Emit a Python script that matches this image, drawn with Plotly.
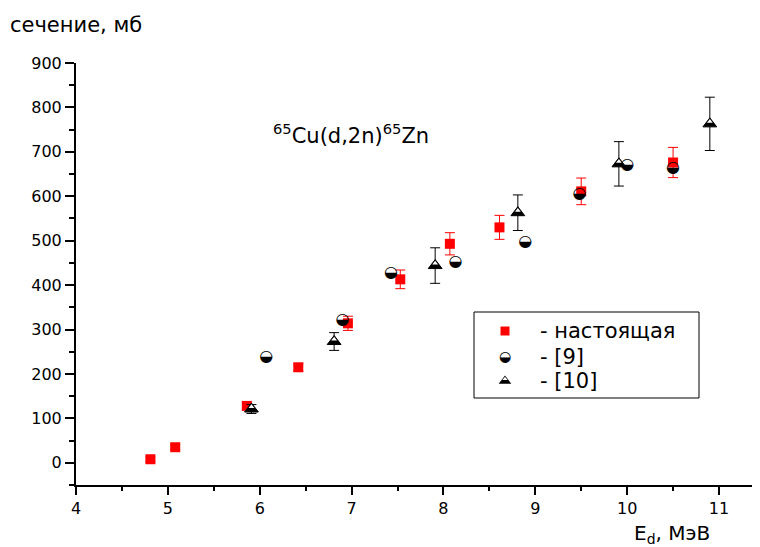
import plotly.graph_objects as go

# ---- data ----
x_now = [4.81, 5.08, 5.86, 6.42, 6.96, 7.53, 8.07, 8.61, 9.50, 10.50]
y_now = [8, 35, 128, 215, 314, 413, 493, 530, 611, 676]
e_now = [5, 5, 8, 8, 16, 21, 25, 27, 30, 34]

x_ref9 = [6.07, 6.90, 7.43, 8.13, 8.89, 9.48, 10.00, 10.50]
y_ref9 = [239, 322, 428, 451, 497, 605, 671, 663]

x_ref10 = [5.91, 6.81, 7.91, 8.81, 9.91, 10.90]
y_ref10 = [121, 273, 444, 563, 673, 763]
e_ref10 = [10, 20, 40, 40, 50, 60]

legend_labels = ["- настоящая", "- [9]", "- [10]"]
x_ticks = [4, 5, 6, 7, 8, 9, 10, 11]
y_ticks = [0, 100, 200, 300, 400, 500, 600, 700, 800, 900]

FONT = "DejaVu Sans"
OFF = 8                      # page body margin in the browser
W, H = 760 - OFF, 547 - OFF
L, R, T, B = 76 - OFF, 0, 63 - OFF, 62
PW, PH = W - L - R, H - T - B


def px(xs):
    """screen x pixel -> paper x"""
    return (xs - OFF - L) / PW


def py(ys):
    """screen y pixel -> paper y"""
    return (H - B - (ys - OFF)) / PH


HALF = "\u25D2"

fig = go.Figure()

# present work: red squares with red error bars
fig.add_trace(go.Scatter(
    x=x_now, y=y_now, mode="markers",
    marker=dict(symbol="square", size=10, color="#ff0000"),
    error_y=dict(type="data", array=e_now, visible=True, color="#ff0000",
                 thickness=1, width=5),
    showlegend=False))

# [10]: half-filled triangles with black error bars
fig.add_trace(go.Scatter(
    x=x_ref10, y=y_ref10, mode="markers",
    marker=dict(symbol="triangle-up", size=12, color="black",
                line=dict(color="black", width=1)),
    error_y=dict(type="data", array=e_ref10, visible=True, color="black",
                 thickness=1, width=5),
    showlegend=False))
fig.add_trace(go.Scatter(
    x=x_ref10, y=y_ref10, mode="markers",
    marker=dict(symbol="triangle-down", size=5, color="white",
                angle=180, standoff=2.3),
    showlegend=False, hoverinfo="skip"))

# [9]: half-filled circles
fig.add_trace(go.Scatter(
    x=x_ref9, y=y_ref9, mode="text", text=[HALF] * len(x_ref9),
    textposition="middle center",
    textfont=dict(family=FONT, size=16, color="black"),
    showlegend=False))

# ---- hand-made legend (on an overlay axis in 0..1 units) ----
leg_x = px(505)
leg_rows = [py(331), py(357), py(381)]
fig.add_trace(go.Scatter(
    x=[leg_x], y=[leg_rows[0]], xaxis="x2", yaxis="y2", mode="markers",
    marker=dict(symbol="square", size=9, color="#ff0000"),
    showlegend=False, hoverinfo="skip"))
fig.add_trace(go.Scatter(
    x=[leg_x], y=[leg_rows[1]], xaxis="x2", yaxis="y2", mode="text",
    text=[HALF], textposition="middle center",
    textfont=dict(family=FONT, size=14, color="black"),
    showlegend=False, hoverinfo="skip"))
fig.add_trace(go.Scatter(
    x=[leg_x], y=[leg_rows[2]], xaxis="x2", yaxis="y2", mode="markers",
    marker=dict(symbol="triangle-up", size=11, color="black"),
    showlegend=False, hoverinfo="skip"))
fig.add_trace(go.Scatter(
    x=[leg_x], y=[leg_rows[2]], xaxis="x2", yaxis="y2", mode="markers",
    marker=dict(symbol="triangle-down", size=4.5, color="white",
                angle=180, standoff=2.1),
    showlegend=False, hoverinfo="skip"))

annotations = []
for lab, yr in zip(legend_labels, leg_rows):
    annotations.append(dict(
        x=px(538), y=yr, xref="paper", yref="paper", text=lab,
        showarrow=False, xanchor="left", yanchor="middle",
        font=dict(family=FONT, size=21, color="black")))

# reaction title
annotations.append(dict(
    x=px(271), y=py(134), xref="paper", yref="paper",
    text="<sup>65</sup>Cu(d,2n)<sup>65</sup>Zn",
    showarrow=False, xanchor="left", yanchor="middle",
    font=dict(family=FONT, size=21, color="black")))

# axis titles
annotations.append(dict(
    x=px(8), y=py(25), xref="paper", yref="paper", text="сечение, мб",
    showarrow=False, xanchor="left", yanchor="middle",
    font=dict(family=FONT, size=21, color="black")))
annotations.append(dict(
    x=px(632), y=py(534), xref="paper", yref="paper",
    text="E<sub>d</sub>, МэВ",
    showarrow=False, xanchor="left", yanchor="middle",
    font=dict(family=FONT, size=20, color="black")))

shapes = [dict(type="rect", xref="paper", yref="paper",
               x0=px(474), x1=px(699), y0=py(398), y1=py(312),
               line=dict(color="black", width=1), fillcolor="rgba(0,0,0,0)")]

fig.update_layout(
    width=W, height=H,
    margin=dict(l=L, r=R, t=T, b=B, pad=0),
    paper_bgcolor="white", plot_bgcolor="white",
    font=dict(family=FONT, color="black"),
    showlegend=False,
    annotations=annotations,
    shapes=shapes,
    xaxis=dict(
        range=[4, 4 + PW / 91.86], tickvals=x_ticks,
        ticktext=[str(v) for v in x_ticks],
        showline=True, linecolor="black", linewidth=2,
        ticks="outside", ticklen=8, tickwidth=2, tickcolor="black",
        showgrid=False, zeroline=False,
        tickfont=dict(family=FONT, size=16, color="black"),
        minor=dict(dtick=0.5, tick0=4, ticks="outside", ticklen=4,
                   tickwidth=2, tickcolor="black", showgrid=False),
    ),
    yaxis=dict(
        range=[-50, 900], tickvals=y_ticks,
        ticktext=[str(v) for v in y_ticks],
        showline=True, linecolor="black", linewidth=2,
        ticks="outside", ticklen=9, tickwidth=2, tickcolor="black",
        showgrid=False, zeroline=False, ticklabelstandoff=0,
        tickfont=dict(family=FONT, size=16, color="black"),
        minor=dict(dtick=50, tick0=0, ticks="outside", ticklen=5,
                   tickwidth=2, tickcolor="black", showgrid=False),
    ),
    xaxis2=dict(overlaying="x", range=[0, 1], visible=False),
    yaxis2=dict(overlaying="y", range=[0, 1], visible=False),
)

fig.write_html("out.html")
